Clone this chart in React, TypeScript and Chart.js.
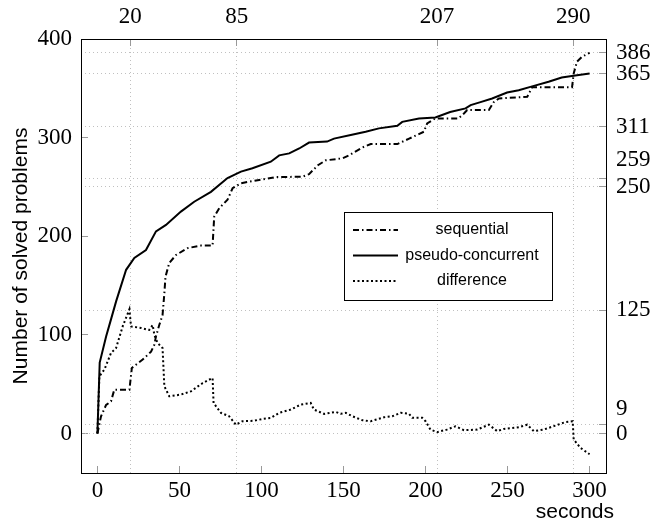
import React, { useEffect, useRef } from 'react';
import { Chart, registerables } from 'chart.js';

Chart.register(...registerables);

// ---- data (seconds, solved problems) ----
const seqT = [0, 2.2, 5.3, 8.3, 10.3, 19.5, 21, 27.6, 32.7, 34.7, 35.7, 37.7, 39.7, 40.8, 41.5, 43.8, 47.9, 55, 63.1, 70.2, 71.2, 74.3, 79.3, 82.4, 87.5, 92.5, 98.6, 108.8, 125, 129, 134.4, 139.2, 149.3, 153.4, 161.5, 166.6, 182.8, 190, 199, 201, 206, 220, 223.4, 225.4, 238.6, 241.6, 244.7, 262, 265, 289.3, 290.3, 292.3, 295.4, 300];
const seqV = [0, 17.5, 29, 32.7, 44.5, 44.5, 66.5, 75, 83, 90, 98.5, 110, 120, 142, 159, 173, 181, 188, 190.6, 190.6, 220, 228.5, 237, 248.7, 253.7, 255.4, 257, 260, 260.4, 263, 272, 277, 279, 282, 290, 293.5, 293.5, 299, 306, 314.5, 319.5, 319.5, 324.5, 328, 328, 336, 339.7, 341.4, 351, 351, 365, 377, 382, 386];

const pcT = [0, 1.4, 5.3, 8.5, 11.4, 17.5, 22.5, 29.6, 35.7, 41.8, 50.9, 59, 69.2, 79.3, 87.5, 94.5, 105.7, 110.8, 116.9, 123, 129, 140, 144.2, 154.4, 163.5, 171.6, 182.8, 185.8, 196, 206, 215, 224.4, 227.5, 233.5, 240.6, 249.7, 256.8, 265, 275, 283, 291.3, 300];
const pcV = [0, 72, 98.5, 117, 134, 166, 178, 186, 205, 211.5, 225, 235, 245, 259, 265.5, 269, 275.6, 282, 284, 289, 295, 296, 299, 302.6, 306, 309.4, 312, 316, 319.5, 320.5, 326, 329.6, 333, 336, 339.7, 345.8, 348, 352, 356.6, 361, 363, 365];

const dfT = [0, 1.2, 4.3, 8.3, 11.4, 15.4, 19.5, 20.5, 26.6, 31.6, 33.7, 34.7, 36.7, 39.7, 40.8, 43.8, 50.9, 57, 64, 70.2, 70.8, 75.3, 80.3, 84.4, 88.4, 95.6, 100.6, 105.7, 110.8, 117.9, 124, 130, 132, 138.2, 145.3, 148.3, 151.4, 155.4, 161.5, 166.6, 174.7, 179.7, 184.8, 189.9, 191.9, 198, 200, 203, 207, 213, 218.3, 223.4, 231.5, 238.6, 243.7, 247.7, 256.8, 262, 266, 272, 279, 285, 289.7, 290.3, 294.4, 300];
const dfV = [0, 58, 65, 81.7, 86.7, 108.6, 126, 108.6, 107, 105, 110, 100, 91.8, 86.7, 48, 37.8, 39.5, 42.8, 51, 56.4, 31, 21, 17.5, 9, 12.5, 13, 14.8, 15.9, 21, 24.3, 29.4, 31, 24.3, 19.9, 22, 20, 21, 17.5, 13.5, 12.5, 16.5, 17.5, 21, 20, 16, 16, 12.5, 4, 1.4, 4, 7.4, 3.4, 4, 9, 2.4, 4.7, 6.4, 9, 2.4, 4, 8, 11.5, 12.5, -6, -14.5, -21];

const seriesLabels = ['sequential', 'pseudo-concurrent', 'difference'];
const bottomTicks = [0, 50, 100, 150, 200, 250, 300];
const topTicks = [20, 85, 207, 290];
const leftTicks = [0, 100, 200, 300, 400];
const rightTicks = [0, 9, 125, 250, 259, 311, 365, 386];
const xTitle = 'seconds';
const yTitle = 'Number of solved problems';

const SERIF = "'Liberation Serif', 'Times New Roman', serif";
const SANS = "'Liberation Sans', Arial, Helvetica, sans-serif";
const TICK_FONT_SIZE = 23;

const pts = (t: number[], v: number[]) => t.map((x, i) => ({ x, y: v[i] }));

const boxLegend = {
  id: 'boxLegend',
  afterDatasetsDraw(chart: any) {
    const { ctx, chartArea: ca } = chart;
    const left = Math.round(ca.left + 263);
    const top = Math.round(ca.top + 173);
    const w = 208;
    const h = 88;
    ctx.save();
    ctx.fillStyle = '#ffffff';
    ctx.fillRect(left, top, w, h);
    ctx.strokeStyle = '#000000';
    ctx.lineWidth = 1;
    ctx.setLineDash([]);
    ctx.strokeRect(left + 0.5, top + 0.5, w, h);
    chart.data.datasets.forEach((ds: any, i: number) => {
      const y = top + 18 + i * 25.5;
      ctx.beginPath();
      ctx.setLineDash(ds.borderDash || []);
      ctx.lineWidth = ds.borderWidth;
      ctx.strokeStyle = ds.borderColor;
      ctx.lineCap = 'butt';
      ctx.moveTo(left + 9, y);
      ctx.lineTo(left + 54, y);
      ctx.stroke();
      ctx.setLineDash([]);
      ctx.fillStyle = '#000000';
      ctx.font = `16px ${SANS}`;
      ctx.textAlign = 'center';
      ctx.textBaseline = 'middle';
      ctx.fillText(ds.label, left + 128, y);
    });
    ctx.restore();
  },
};

// x-axis label, placed right-aligned just past the plot's right edge, below the tick labels
const xLabelPlugin = {
  id: 'xLabel',
  afterDraw(chart: any) {
    const { ctx, chartArea: ca } = chart;
    const xs = chart.scales.x;
    ctx.save();
    ctx.fillStyle = '#000000';
    ctx.font = `21px ${SANS}`;
    ctx.textAlign = 'right';
    ctx.textBaseline = 'middle';
    ctx.fillText(xTitle, ca.right + 8, xs.bottom - 11);
    ctx.restore();
  },
};

export default function App() {
  const ref = useRef<HTMLCanvasElement | null>(null);

  useEffect(() => {
    if (!ref.current) return;
    const tickFont = { family: SERIF, size: TICK_FONT_SIZE };
    const setTicks = (vals: number[]) => (s: any) => {
      s.ticks = vals.map((value) => ({ value }));
    };
    const chart = new Chart(ref.current, {
      type: 'line',
      data: {
        datasets: [
          {
            label: seriesLabels[0],
            data: pts(seqT, seqV),
            borderColor: '#000000',
            borderWidth: 2,
            borderDash: [6, 3, 1.5, 3],
            pointRadius: 0,
            tension: 0,
            fill: false,
            xAxisID: 'x',
            yAxisID: 'y',
          },
          {
            label: seriesLabels[1],
            data: pts(pcT, pcV),
            borderColor: '#000000',
            borderWidth: 2,
            pointRadius: 0,
            tension: 0,
            fill: false,
            xAxisID: 'x',
            yAxisID: 'y',
          },
          {
            label: seriesLabels[2],
            data: pts(dfT, dfV),
            borderColor: '#000000',
            borderWidth: 2,
            borderDash: [2, 2.5],
            borderCapStyle: 'butt',
            pointRadius: 0,
            tension: 0,
            fill: false,
            xAxisID: 'x',
            yAxisID: 'y',
          },
        ],
      },
      options: {
        responsive: false,
        animation: false,
        devicePixelRatio: 1,
        layout: { padding: 0 },
        plugins: { legend: { display: false }, tooltip: { enabled: false } },
        scales: {
          x: {
            type: 'linear',
            position: 'bottom',
            min: -10,
            max: 310,
            afterBuildTicks: setTicks(bottomTicks),
            afterFit: (s: any) => { s.height = 50; },
            ticks: { autoSkip: false, maxRotation: 0, padding: 11, color: '#000', font: tickFont, callback: (v: any) => String(v) },
            grid: { drawOnChartArea: false, tickLength: -7, tickColor: '#999999', tickWidth: 1 },
            border: { color: '#000000', width: 1 },
          },
          x2: {
            type: 'linear',
            position: 'top',
            min: -10,
            max: 310,
            afterBuildTicks: setTicks(topTicks),
            afterFit: (s: any) => { s.height = 39; },
            ticks: { autoSkip: false, maxRotation: 0, padding: 15, color: '#000', font: tickFont, callback: (v: any) => String(v) },
            grid: { drawOnChartArea: true, color: '#c0c0c0', lineWidth: 1, tickLength: -7, tickColor: '#999999', tickWidth: 1 },
            border: { color: '#000000', width: 1, dash: [1, 3] },
          },
          y: {
            type: 'linear',
            position: 'left',
            min: -40,
            max: 400,
            afterBuildTicks: setTicks(leftTicks),
            afterFit: (s: any) => { s.width = 81; },
            ticks: { autoSkip: false, padding: 16, color: '#000', font: tickFont, callback: (v: any) => String(v) },
            grid: { drawOnChartArea: false, tickLength: -7, tickColor: '#999999', tickWidth: 1 },
            border: { color: '#000000', width: 1 },
            title: { display: true, text: yTitle, color: '#000', font: { family: SANS, size: 21 }, padding: { top: 9, bottom: 0 } },
          },
          y2: {
            type: 'linear',
            position: 'right',
            min: -40,
            max: 400,
            afterBuildTicks: setTicks(rightTicks),
            afterFit: (s: any) => { s.width = 46; },
            ticks: {
              autoSkip: false,
              padding: 17,
              color: '#000',
              font: (c: any) => {
                const v = c && c.tick ? c.tick.value : null;
                const lh = v === 259 ? '36px' : v === 9 ? '32px' : 1.2;
                return { family: SERIF, size: TICK_FONT_SIZE, lineHeight: lh };
              },
              callback: (v: any) => (v === 259 || v === 9 ? [String(v), ''] : String(v)),
            },
            grid: { drawOnChartArea: true, color: '#c0c0c0', lineWidth: 1, tickLength: -7, tickColor: '#999999', tickWidth: 1 },
            border: { color: '#000000', width: 1, dash: [1, 3] },
          },
        },
      } as any,
      plugins: [boxLegend, xLabelPlugin],
    });
    return () => chart.destroy();
  }, []);

  return (
    <div style={{ position: 'absolute', left: 0, top: 0, width: 652, height: 523, background: '#fff' }}>
      <canvas ref={ref} width={652} height={523} style={{ display: 'block' }} />
    </div>
  );
}
